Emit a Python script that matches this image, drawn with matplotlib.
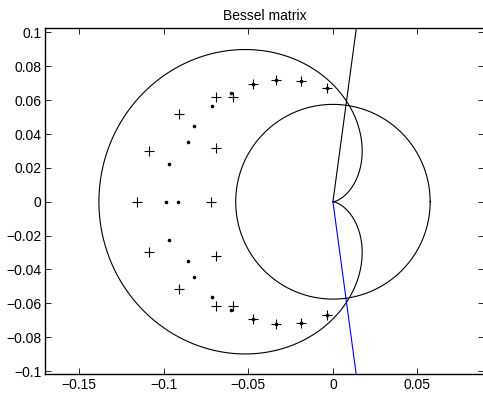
import numpy as np
import matplotlib
matplotlib.use("Agg")
import matplotlib.pyplot as plt

plt.rcParams['font.family'] = ['Liberation Sans', 'DejaVu Sans']

# eigenvalues (+)
eig_x = [-0.1156, -0.1086, -0.0909, -0.0693, -0.0589, -0.0475, -0.0334, -0.0189, -0.0035, -0.0693, -0.0723,
         -0.1086, -0.0909, -0.0693, -0.0589, -0.0475, -0.0334, -0.0189, -0.0035, -0.0693]
eig_y = [0.0, 0.0299, 0.0518, 0.0618, 0.0616, 0.0695, 0.0720, 0.0715, 0.0671, 0.0319, 0.0,
         -0.0299, -0.0518, -0.0618, -0.0616, -0.0695, -0.0720, -0.0715, -0.0671, -0.0319]

# perturbed eigenvalues (dots)
dot_x = [-0.0986, -0.0914, -0.0967, -0.0859, -0.0822, -0.0715, -0.0601, -0.0475, -0.0334, -0.0189, -0.0035,
         -0.0967, -0.0859, -0.0822, -0.0715, -0.0601, -0.0475, -0.0334, -0.0189, -0.0035]
dot_y = [0.0, 0.0, 0.0224, 0.0352, 0.0445, 0.0565, 0.0640, 0.0695, 0.0720, 0.0715, 0.0671,
         -0.0224, -0.0352, -0.0445, -0.0565, -0.0640, -0.0695, -0.0720, -0.0715, -0.0671]

circle_radius = 0.0575
cardioid_a = 0.0692

upper_ray_x = [0.0, 0.0276]
upper_ray_y = [0.0, 0.2044]
lower_ray_x = [0.0, 0.0276]
lower_ray_y = [0.0, -0.2044]

xticks = [-0.15, -0.1, -0.05, 0, 0.05]
xticklabels = ['\u22120.15', '\u22120.1', '\u22120.05', '0', '0.05']
yticks = [-0.1, -0.08, -0.06, -0.04, -0.02, 0, 0.02, 0.04, 0.06, 0.08, 0.1]
yticklabels = ['\u22120.1', '\u22120.08', '\u22120.06', '\u22120.04', '\u22120.02', '0',
               '0.02', '0.04', '0.06', '0.08', '0.1']

fig = plt.figure(figsize=(4.83, 4.01), dpi=100)
ax = fig.add_axes([45.3 / 483, (401 - 374.3) / 401, (483.6 - 45.3) / 483, (374.3 - 28) / 401])

t = np.linspace(0, 2 * np.pi, 721)
ax.plot(circle_radius * np.cos(t), circle_radius * np.sin(t), color='k', lw=0.8)
r = cardioid_a * (1 - np.cos(t))
ax.plot(r * np.cos(t), r * np.sin(t), color='k', lw=0.8)

ax.plot(upper_ray_x, upper_ray_y, color='k', lw=0.8)
ax.plot(lower_ray_x, lower_ray_y, color='b', lw=0.8)

ax.plot(eig_x, eig_y, linestyle='none', marker='+', color='k', markersize=6.5, markeredgewidth=0.8)
ax.plot(dot_x, dot_y, linestyle='none', marker='o', color='k', markersize=2.6, markeredgewidth=0)

ax.set_xlim(-0.1701, 0.0891)
ax.set_ylim(-0.1019, 0.1026)
ax.set_xticks(xticks)
ax.set_xticklabels(xticklabels)
ax.set_yticks(yticks)
ax.set_yticklabels(yticklabels)
ax.tick_params(direction='in', length=4, width=0.6, top=True, right=True, labelsize=10, pad=3)
for s in ax.spines.values():
    s.set_linewidth(1.0)

ax.set_title('Bessel matrix', fontsize=10, pad=6)

fig.savefig('out.png', dpi=100)
